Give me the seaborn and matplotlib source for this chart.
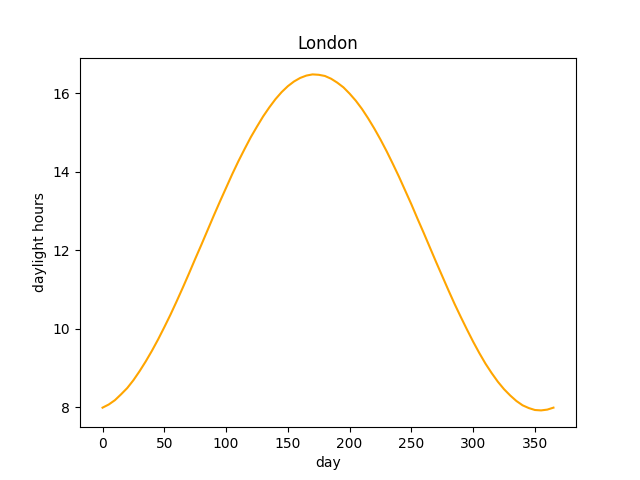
import matplotlib
matplotlib.use("Agg")
import matplotlib.pyplot as plt
import pandas as pd
import seaborn as sns

# values, every 5 days
days = [0, 5, 10, 15, 20, 25, 30, 35, 40, 45, 50, 55, 60, 65, 70, 75, 80,
        85, 90, 95, 100, 105, 110, 115, 120, 125, 130, 135, 140, 145, 150,
        155, 160, 165, 170, 175, 180, 185, 190, 195, 200, 205, 210, 215,
        220, 225, 230, 235, 240, 245, 250, 255, 260, 265, 270, 275, 280,
        285, 290, 295, 300, 305, 310, 315, 320, 325, 330, 335, 340, 345,
        350, 355, 360, 365]
hours = [7.99, 8.07, 8.18, 8.33, 8.49, 8.69, 8.92, 9.17, 9.44, 9.73, 10.04,
         10.36, 10.70, 11.05, 11.41, 11.78, 12.14, 12.51, 12.88, 13.24,
         13.59, 13.94, 14.27, 14.58, 14.88, 15.15, 15.41, 15.64, 15.85,
         16.03, 16.18, 16.30, 16.39, 16.45, 16.48, 16.47, 16.44, 16.37,
         16.27, 16.15, 15.99, 15.81, 15.60, 15.36, 15.10, 14.82, 14.52,
         14.20, 13.87, 13.52, 13.17, 12.80, 12.44, 12.07, 11.70, 11.34,
         10.98, 10.63, 10.30, 9.98, 9.67, 9.38, 9.11, 8.87, 8.65, 8.46,
         8.30, 8.16, 8.05, 7.98, 7.93, 7.92, 7.94, 7.99]

df = pd.DataFrame({"day": days, "daylight hours": hours})

fig, ax = plt.subplots(figsize=(6.4, 4.8), dpi=100)
sns.lineplot(data=df, x="day", y="daylight hours", color="orange", ax=ax)
ax.set_title("London")
ax.set_xlabel("day")
ax.set_ylabel("daylight hours")
fig.savefig("out.png")
